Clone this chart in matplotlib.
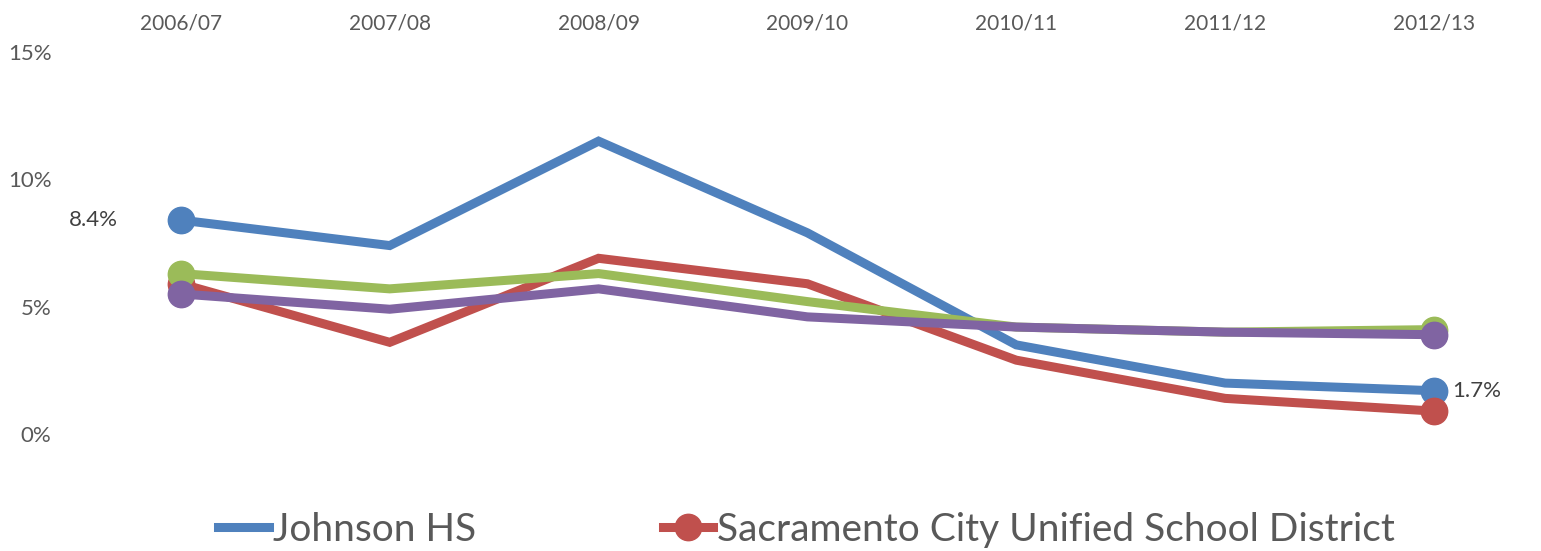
import numpy as np
import matplotlib.pyplot as plt
from matplotlib.lines import Line2D

# Data
years = ['2006/07', '2007/08', '2008/09', '2009/10', '2010/11', '2011/12', '2012/13']
johnson = [8.4, 7.4, 11.5, 7.9, 3.5, 2.0, 1.7]
district = [5.9, 3.6, 6.9, 5.9, 2.9, 1.4, 0.9]
green_series = [6.3, 5.7, 6.3, 5.2, 4.2, 4.0, 4.1]
purple_series = [5.5, 4.9, 5.7, 4.6, 4.2, 4.0, 3.9]
y_ticks = [0, 5, 10, 15]

c_blue = '#4F81BD'
c_red = '#C0504D'
c_green = '#9BBB59'
c_purple = '#8064A2'
c_text = '#595959'

plt.rcParams['font.family'] = ['Lato', 'DejaVu Sans']

fig = plt.figure(figsize=(15.41, 5.51), dpi=100)
ax = fig.add_axes([0.0496, 0.2123, 0.9487, 0.6933])

x = np.arange(len(years))
for values, color in [(johnson, c_blue), (district, c_red),
                      (green_series, c_green), (purple_series, c_purple)]:
    ax.plot(x, values, color=color, lw=6.5, solid_joinstyle='miter',
            solid_capstyle='butt')
    ax.plot([x[0], x[-1]], [values[0], values[-1]], 'o', color=color,
            ms=19, mec=color)

# Data labels
ax.annotate('{:.1f}%'.format(johnson[0]), (x[0], johnson[0]),
            xytext=(-45, 0), textcoords='offset points', ha='right',
            va='center', fontsize=16, color='#404040')
ax.annotate('{:.1f}%'.format(johnson[-1]), (x[-1], johnson[-1]),
            xytext=(13, 0), textcoords='offset points', ha='left',
            va='center', fontsize=16, color='#404040')

ax.set_xlim(-0.5, 6.5)
ax.set_ylim(0, 15)
ax.set_xticks(x)
ax.set_xticklabels(years)
ax.xaxis.tick_top()
ax.set_yticks(y_ticks)
ax.set_yticklabels(['{}%'.format(v) for v in y_ticks])
ax.tick_params(axis='x', length=0, pad=13, labelsize=15, labelcolor=c_text)
ax.tick_params(axis='y', length=0, pad=18, labelsize=16, labelcolor=c_text)
for spine in ax.spines.values():
    spine.set_visible(False)

# Legend (only first two entries fit on the canvas)
handles = [Line2D([], [], color=c_blue, lw=6.5),
           Line2D([], [], color=c_red, lw=6.5, marker='o', ms=19)]
fig.legend(handles, ['Johnson HS', 'Sacramento City Unified School District'],
           loc='center left', bbox_to_anchor=(0.119, 0.038), ncol=2,
           frameon=False, fontsize=28, labelcolor=c_text, handlelength=1.3,
           handletextpad=0.1, columnspacing=4.8)

fig.savefig('out.png', dpi=100)
